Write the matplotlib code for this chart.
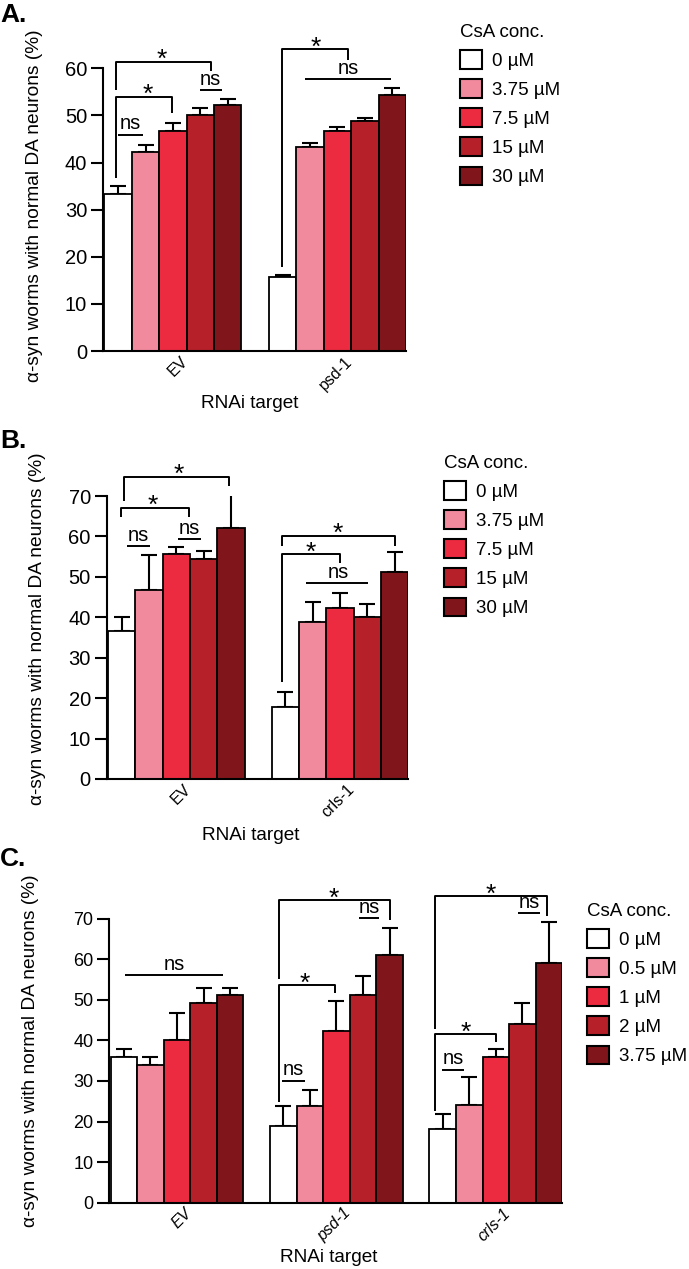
import numpy as np
import matplotlib
matplotlib.use('Agg')
import matplotlib.pyplot as plt
from matplotlib.patches import Patch
from matplotlib.transforms import ScaledTranslation

plt.rcParams['font.family'] = ['Liberation Sans', 'DejaVu Sans']

W, H = 689, 1269
colors = ['#ffffff', '#f28a9e', '#ec2b40', '#b52029', '#80161b']

# panel A
a_targets = ['EV', 'psd-1']
a_conc = ['0 µM', '3.75 µM', '7.5 µM', '15 µM', '30 µM']
a_mean = [[33.3, 42.2, 46.7, 50.0, 52.2],
          [15.6, 43.3, 46.7, 48.9, 54.4]]
a_err = [[1.7, 1.5, 1.6, 1.6, 1.2],
         [0.5, 0.9, 0.9, 0.5, 1.4]]

# panel B
b_targets = ['EV', 'crls-1']
b_conc = ['0 µM', '3.75 µM', '7.5 µM', '15 µM', '30 µM']
b_mean = [[36.7, 46.7, 55.6, 54.3, 62.2],
          [17.9, 38.9, 42.2, 40.0, 51.1]]
b_err = [[3.3, 8.7, 1.8, 2.0, 9.7],
         [3.6, 5.0, 3.7, 3.3, 5.0]]

# panel C
c_targets = ['EV', 'psd-1', 'crls-1']
c_conc = ['0 µM', '0.5 µM', '1 µM', '2 µM', '3.75 µM']
c_mean = [[35.9, 34.0, 40.0, 49.1, 51.1],
          [19.0, 23.9, 42.2, 51.1, 61.1],
          [18.1, 24.0, 35.9, 44.0, 59.2]]
c_err = [[2.0, 1.9, 6.8, 3.7, 1.8],
         [4.9, 3.9, 7.4, 4.9, 6.7],
         [3.7, 7.1, 2.0, 5.1, 10.1]]

# significance marks: x left, x right, y left end, y top, y right end, text, text x
a_marks = [
    (0.01, 0.90, 45.9, 45.9, 45.9, 'ns', 0.45),
    (-0.07, 1.96, 36.7, 54.0, 50.6, '*', 1.1),
    (-0.07, 3.39, 55.4, 61.4, 59.4, '*', 1.6),
    (2.97, 3.80, 55.3, 55.3, 55.3, 'ns', 3.38),
    (5.98, 8.38, 17.9, 64.0, 61.8, '*', 7.2),
    (6.83, 9.96, 57.7, 57.7, 57.7, 'ns', 8.4),
]
b_marks = [
    (0.08, 3.93, 68.8, 74.8, 72.5, '*', 2.09),
    (-0.04, 2.47, 64.9, 67.1, 64.7, '*', 1.15),
    (0.18, 1.03, 57.6, 57.6, 57.6, 'ns', 0.6),
    (2.05, 2.91, 59.3, 59.3, 59.3, 'ns', 2.48),
    (5.86, 10.0, 57.6, 60.2, 57.7, '*', 7.93),
    (5.86, 7.99, 24.1, 55.6, 53.5, '*', 6.92),
    (6.77, 9.03, 48.4, 48.4, 48.4, 'ns', 7.95),
]
c_marks = [
    (0.04, 3.74, 56.1, 56.1, 56.1, 'ns', 1.9),
    (5.83, 10.03, 55.1, 74.6, 69.8, '*', 7.9),
    (5.83, 7.93, 24.9, 53.7, 51.6, '*', 6.79),
    (5.95, 6.83, 30.0, 30.0, 30.0, 'ns', 6.39),
    (8.84, 9.59, 70.1, 70.1, 70.1, 'ns', 9.22),
    (11.72, 15.94, 42.7, 75.6, 70.7, '*', 13.79),
    (11.72, 14.0, 22.7, 41.6, 39.7, '*', 12.88),
    (11.98, 12.8, 32.7, 32.7, 32.7, 'ns', 12.4),
    (14.84, 15.67, 71.3, 71.3, 71.3, 'ns', 15.25),
]


def box(left, right, y0, ytop):
    return [left / W, 1 - y0 / H, (right - left) / W, (y0 - ytop) / H]


def draw_panel(fig, rect, targets, conc, means, errs, ymax, marks,
               italic=False, ytick_fs=14.5):
    ax = fig.add_axes(rect)
    means = np.array(means)
    errs = np.array(errs)
    ng = len(targets)
    for ci in range(len(conc)):
        xs = np.arange(ng) * 6 + ci
        ax.bar(xs, means[:, ci], width=1, color=colors[ci],
               edgecolor='black', linewidth=1.3, zorder=2)
        ax.errorbar(xs, means[:, ci], yerr=[np.zeros(ng), errs[:, ci]],
                    fmt='none', ecolor='black', elinewidth=1.5,
                    capsize=5.5, capthick=1.5, zorder=1)
    ax.set_xlim(-0.55, (ng - 1) * 6 + 4.5)
    ax.set_ylim(0, ymax)
    ax.set_yticks(np.arange(0, ymax + 1, 10))
    for s in ['top', 'right']:
        ax.spines[s].set_visible(False)
    for s in ['left', 'bottom']:
        ax.spines[s].set_linewidth(1.5)
    ax.tick_params(axis='y', length=8.4, width=1.5, pad=3,
                   labelsize=ytick_fs)
    ax.tick_params(axis='x', length=0, pad=2)
    ax.set_xticks(np.arange(ng) * 6 + 2)
    ax.set_xticklabels(targets, rotation=45, ha='right',
                       rotation_mode='anchor', fontsize=11.5,
                       fontstyle='italic' if italic else 'normal')
    off = ScaledTranslation(5 / 72, 0, fig.dpi_scale_trans)
    for lbl in ax.get_xticklabels():
        lbl.set_transform(lbl.get_transform() + off)

    for x1, x2, y1, yt, y2, txt, tx in marks:
        ax.plot([x1, x1, x2, x2], [y1, yt, yt, y2], color='black',
                lw=1.4, clip_on=False, solid_capstyle='butt')
        if txt == '*':
            dy, fs = -4, 19
        else:
            dy, fs = 4, 14.5
        ax.annotate(txt, (tx, yt), xytext=(0, dy), textcoords='offset points',
                    ha='center', va='baseline', fontsize=fs,
                    annotation_clip=False)
    return ax


def add_legend(fig, conc, lx, ly):
    handles = [Patch(facecolor=c, edgecolor='black', linewidth=1.5)
               for c in colors]
    fig.legend(handles, conc, title='CsA conc.', loc='upper left',
               bbox_to_anchor=(lx / W, 1 - ly / H), frameon=False,
               fontsize=13.5, title_fontsize=13.5, handlelength=1.15,
               handleheight=1.15, handletextpad=0.55, labelspacing=0.5,
               borderpad=0, borderaxespad=0, alignment='left')


fig = plt.figure(figsize=(W / 100, H / 100), dpi=100)

ylab = 'α-syn worms with normal DA neurons (%)'

draw_panel(fig, box(103, 406, 351, 68.3), a_targets, a_conc, a_mean, a_err,
           60, a_marks)
draw_panel(fig, box(106.7, 408.3, 779, 496), b_targets, b_conc, b_mean, b_err,
           70, b_marks)
draw_panel(fig, box(109.3, 562.3, 1202.7, 918.7), c_targets, c_conc, c_mean,
           c_err, 70, c_marks, italic=True, ytick_fs=13)

add_legend(fig, a_conc, 460, 24)
add_legend(fig, b_conc, 444, 455)
add_legend(fig, c_conc, 587, 903)

for lx, ly in [(35, 205.5), (38, 629), (31, 1051)]:
    fig.text(lx / W, 1 - ly / H, ylab, rotation=90, ha='center',
             va='center', fontsize=13.8)
for lx, ly in [(250, 403), (251, 835), (329, 1258)]:
    fig.text(lx / W, 1 - ly / H, 'RNAi target', ha='center', va='center',
             fontsize=13.7)
for lab, by in [('A.', 21.7), ('B.', 448), ('C.', 866)]:
    fig.text(0.0, 1 - by / H, lab, ha='left', va='baseline', fontsize=19,
             fontweight='bold')

fig.savefig('out.png', dpi=100)
